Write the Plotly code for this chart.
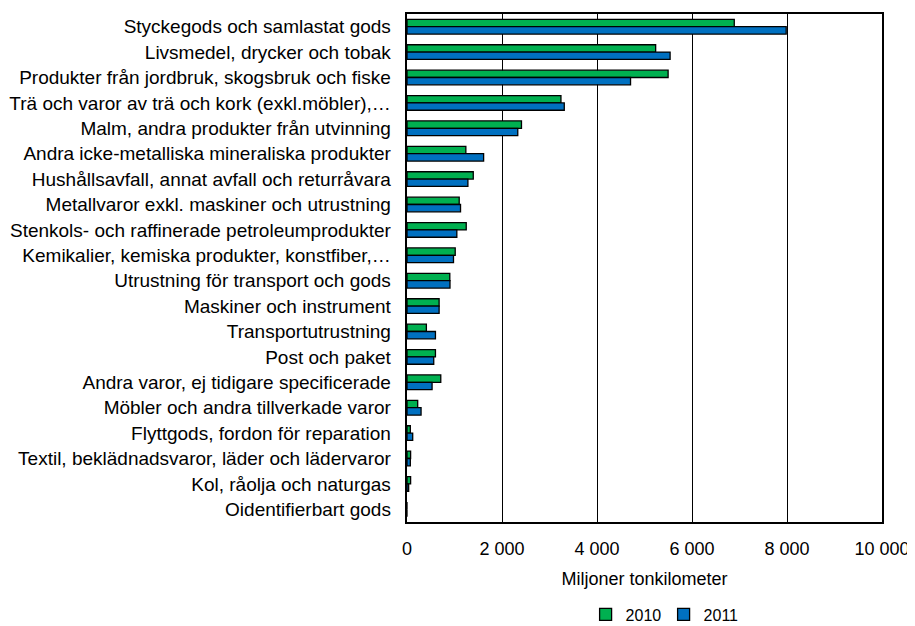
import plotly.graph_objects as go

categories = [
    "Styckegods och samlastat gods",
    "Livsmedel, drycker och tobak",
    "Produkter från jordbruk, skogsbruk och fiske",
    "Trä och varor av trä och kork (exkl.möbler),…",
    "Malm, andra produkter från utvinning",
    "Andra icke-metalliska mineraliska produkter",
    "Hushållsavfall, annat avfall och returråvara",
    "Metallvaror exkl. maskiner och utrustning",
    "Stenkols- och raffinerade petroleumprodukter",
    "Kemikalier, kemiska produkter, konstfiber,…",
    "Utrustning för transport och gods",
    "Maskiner och instrument",
    "Transportutrustning",
    "Post och paket",
    "Andra varor, ej tidigare specificerade",
    "Möbler och andra tillverkade varor",
    "Flyttgods, fordon för reparation",
    "Textil, beklädnadsvaror, läder och lädervaror",
    "Kol, råolja och naturgas",
    "Oidentifierbart gods",
]
values_2010 = [6890, 5235, 5497, 3241, 2410, 1239, 1395, 1099, 1247, 1015,
               901, 676, 408, 599, 711, 225, 70, 76, 76, 0]
values_2011 = [7983, 5539, 4706, 3311, 2332, 1613, 1282, 1127, 1049, 979,
               905, 676, 599, 563, 528, 296, 120, 70, 35, 0]
tick_vals = [0, 2000, 4000, 6000, 8000, 10000]
tick_text = ["0", "2 000", "4 000", "6 000", "8 000", "10 000"]

FONT = "Liberation Sans, Arial, sans-serif"

fig = go.Figure()
fig.add_trace(go.Bar(y=categories, x=values_2010, orientation="h", name="2010",
                     marker=dict(color="#00b050", line=dict(color="black", width=1.3))))
fig.add_trace(go.Bar(y=categories, x=values_2011, orientation="h", name="2011",
                     marker=dict(color="#0070c0", line=dict(color="black", width=1.3))))

fig.update_layout(
    width=907, height=618,
    margin=dict(l=399, r=33, t=6, b=104, autoexpand=False),
    paper_bgcolor="white", plot_bgcolor="white",
    barmode="group", bargap=0.42, bargroupgap=0,
    font=dict(family=FONT, size=18, color="black"),
    showlegend=True,
    legend=dict(orientation="h", x=0.376, y=-0.182, xanchor="left", yanchor="middle",
                font=dict(size=16), itemwidth=30,
                entrywidth=33, entrywidthmode="pixels",
                bgcolor="rgba(0,0,0,0)"),
    xaxis=dict(range=[0, 10000], tickvals=tick_vals, ticktext=tick_text,
               showgrid=True, gridcolor="black", gridwidth=1.3,
               showline=True, linecolor="black", linewidth=1.5, mirror=True,
               ticks="", zeroline=False, ticklabelstandoff=10,
               tickfont=dict(size=18),
               title=dict(text="Miljoner tonkilometer", font=dict(size=18), standoff=14)),
    yaxis=dict(autorange="reversed", showline=True, linecolor="black", linewidth=1.5,
               mirror=True, ticks="", showgrid=False, ticksuffix="  ",
               tickfont=dict(size=19)),
)

fig.write_html("out.html")
